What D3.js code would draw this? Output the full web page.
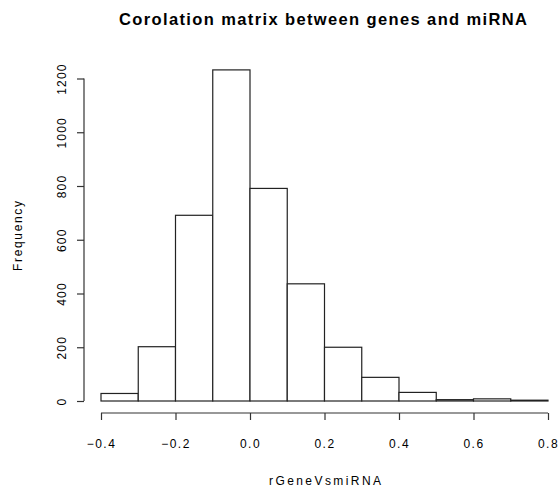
<!DOCTYPE html>
<meta charset="utf-8">
<style>
  body { margin: 0; background: #fff; }
  text { font-family: 'Liberation Sans', Arial, sans-serif; fill: #000; }
</style>
<svg width="560" height="495"></svg>
<script src="https://d3js.org/d3.v7.min.js"></script>
<script>
// histogram bins (lower edges) and counts
var binStarts = [-0.4, -0.3, -0.2, -0.1, 0.0, 0.1, 0.2, 0.3, 0.4, 0.5, 0.6, 0.7];
var counts = [28, 202, 691, 1232, 791, 436, 200, 88, 32, 5, 8, 3];
var binWidth = 0.1;
var xTicks = [-0.4, -0.2, 0.0, 0.2, 0.4, 0.6, 0.8];
var yTicks = [0, 200, 400, 600, 800, 1000, 1200];

var svg = d3.select("svg");

var x = d3.scaleLinear().domain([-0.4, 0.8]).range([101, 548]);
var y = d3.scaleLinear().domain([0, 1200]).range([401, 78.5]);

var data = binStarts.map(function(s, i) { return {x0: s, x1: s + binWidth, n: counts[i]}; });

svg.append("g").selectAll("rect")
    .data(data)
  .enter().append("rect")
    .attr("x", function(d) { return x(d.x0); })
    .attr("y", function(d) { return y(d.n); })
    .attr("width", function(d) { return x(d.x1) - x(d.x0); })
    .attr("height", function(d) { return y(0) - y(d.n); })
    .attr("fill", "#fff")
    .attr("stroke", "#222")
    .attr("stroke-width", 1.2);

// x axis (R style: line only spans the ticks)
var xa = svg.append("g").attr("transform", "translate(0,413)")
    .call(d3.axisBottom(x).tickValues(xTicks).tickSize(7).tickPadding(19)
      .tickFormat(d3.format(".1f")));
xa.select(".domain").remove();
xa.append("line").attr("x1", x(-0.4)).attr("x2", x(0.8))
    .attr("stroke", "#333").attr("stroke-width", 1.2);
xa.selectAll(".tick line").attr("stroke", "#333").attr("stroke-width", 1.2);
xa.selectAll(".tick text").style("font-size", "12px")
    .style("letter-spacing", "1.5px").attr("fill", "#000");

// y axis with rotated labels
var ya = svg.append("g").attr("transform", "translate(84,0)")
    .call(d3.axisLeft(y).tickValues(yTicks).tickSize(7).tickFormat(d3.format("d")));
ya.select(".domain").remove();
ya.append("line").attr("y1", y(0)).attr("y2", y(1200))
    .attr("stroke", "#333").attr("stroke-width", 1.2);
ya.selectAll(".tick line").attr("stroke", "#333").attr("stroke-width", 1.2);
ya.selectAll(".tick text")
    .style("font-size", "12px")
    .style("letter-spacing", "1.2px")
    .attr("x", null).attr("dy", null)
    .attr("text-anchor", "middle")
    .attr("transform", "translate(-22,0) rotate(-90)")
    .attr("y", 4);

svg.append("text")
    .attr("x", 323).attr("y", 25)
    .attr("text-anchor", "middle")
    .attr("textLength", 408)
    .attr("lengthAdjust", "spacing")
    .style("font-size", "16.5px")
    .style("font-weight", "bold")
    .text("Corolation matrix between genes and miRNA");

svg.append("text")
    .attr("x", 325).attr("y", 485)
    .attr("text-anchor", "middle")
    .attr("textLength", 112)
    .attr("lengthAdjust", "spacing")
    .style("font-size", "12px")
    .text("rGeneVsmiRNA");

svg.append("text")
    .attr("transform", "translate(22,236) rotate(-90)")
    .attr("text-anchor", "middle")
    .attr("textLength", 70)
    .attr("lengthAdjust", "spacing")
    .style("font-size", "12px")
    .text("Frequency");
</script>
